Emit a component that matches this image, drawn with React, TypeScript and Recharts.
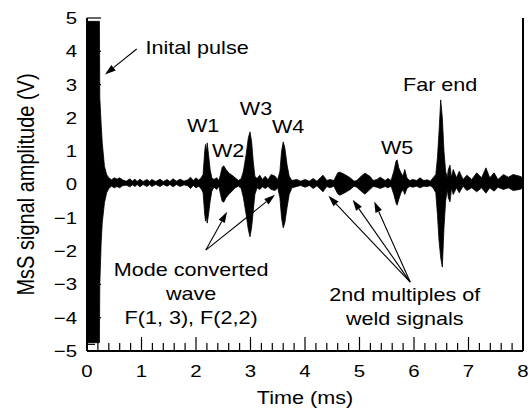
import React from 'react'
import { AreaChart, Area, XAxis, YAxis, ReferenceLine, ReferenceDot } from 'recharts'

// envelope of the MsS trace
const timeMs = [
  0, 0.228, 0.235, 0.26, 0.28, 0.32, 0.36, 0.4, 0.45, 0.5, 0.55, 0.6, 0.65, 0.72, 0.79, 0.83, 0.88, 0.92, 0.97,
  1.03, 1.1, 1.15, 1.19, 1.26, 1.34, 1.4, 1.47, 1.52, 1.58, 1.64, 1.71, 1.78, 1.85, 1.9, 1.95,
  2.0, 2.05, 2.1, 2.13, 2.16, 2.175, 2.19, 2.205, 2.23, 2.26, 2.29, 2.33, 2.38, 2.42, 2.45, 2.48, 2.51,
  2.55, 2.6, 2.66, 2.72, 2.78, 2.83, 2.87, 2.92, 2.96, 2.99, 3.02, 3.05, 3.08, 3.12, 3.17, 3.22, 3.27,
  3.32, 3.38, 3.45, 3.5, 3.54, 3.57, 3.6, 3.63, 3.67, 3.71, 3.76, 3.85, 3.92, 4.0, 4.08, 4.15, 4.22,
  4.33, 4.4, 4.46, 4.53, 4.6, 4.64, 4.73, 4.83, 4.9, 4.95, 5.03, 5.1, 5.19, 5.25, 5.32, 5.38, 5.47,
  5.52, 5.58, 5.63, 5.67, 5.69, 5.72, 5.76, 5.8, 5.83, 5.87, 5.92, 5.98, 6.05, 6.11, 6.18, 6.24, 6.3,
  6.35, 6.4, 6.43, 6.46, 6.49, 6.52, 6.55, 6.58, 6.61, 6.63, 6.66, 6.69, 6.72, 6.78, 6.83, 6.9, 6.97,
  7.06, 7.15, 7.24, 7.32, 7.39, 7.47, 7.54, 7.64, 7.73, 7.82, 7.94, 8.0,
]
const upperV = [
  4.9, 4.9, 2.6, 1.8, 1.25, 0.55, 0.3, 0.2, 0.14, 0.2, 0.16, 0.2, 0.14, 0.1, 0.17, 0.1, 0.16, 0.09, 0.16,
  0.09, 0.15, 0.09, 0.15, 0.09, 0.16, 0.09, 0.15, 0.09, 0.17, 0.1, 0.16, 0.1, 0.14, 0.22, 0.12,
  0.2, 0.13, 0.22, 0.3, 1.0, 1.2, 0.95, 1.25, 0.9, 0.45, 0.2, 0.15, 0.2, 0.12, 0.3, 0.52, 0.56,
  0.45, 0.35, 0.28, 0.2, 0.12, 0.18, 0.4, 0.9, 1.4, 1.58, 1.3, 0.7, 0.25, 0.18, 0.28, 0.15, 0.25,
  0.14, 0.3, 0.25, 0.15, 0.4, 1.0, 1.28, 1.1, 0.6, 0.25, 0.12, 0.15, 0.1, 0.15, 0.1, 0.18, 0.1,
  0.28, 0.12, 0.15, 0.12, 0.35, 0.37, 0.3, 0.2, 0.1, 0.12, 0.25, 0.34, 0.25, 0.12, 0.15, 0.22, 0.12,
  0.18, 0.12, 0.4, 0.7, 0.74, 0.5, 0.35, 0.25, 0.45, 0.2, 0.12, 0.15, 0.12, 0.2, 0.12, 0.14, 0.1,
  0.2, 0.3, 0.8, 1.6, 2.54, 2.0, 1.0, 0.4, 0.2, 0.45, 0.58, 0.2, 0.45, 0.2, 0.4, 0.15, 0.28,
  0.15, 0.35, 0.2, 0.5, 0.2, 0.35, 0.15, 0.3, 0.22, 0.3, 0.25, 0.2,
]
const lowerV = [
  -4.75, -4.75, -3.0, -1.75, -1.15, -0.55, -0.25, -0.12, -0.05, -0.1, -0.06, -0.1, -0.04, -0.02, -0.07, -0.01, -0.06, 0, -0.07,
  0, -0.06, 0, -0.06, 0, -0.06, 0, -0.05, 0, -0.07, 0, -0.06, -0.01, -0.04, -0.12, -0.03,
  -0.1, -0.05, -0.14, -0.25, -0.9, -1.1, -0.95, -1.16, -0.9, -0.5, -0.2, -0.08, -0.15, -0.05, -0.3, -0.5, -0.53,
  -0.4, -0.3, -0.2, -0.1, -0.05, -0.12, -0.4, -0.9, -1.35, -1.57, -1.3, -0.8, -0.3, -0.1, -0.15, -0.07, -0.12,
  -0.06, -0.15, -0.18, -0.1, -0.4, -1.0, -1.3, -1.15, -0.7, -0.3, -0.1, -0.06, -0.03, -0.08, -0.03, -0.12, -0.04,
  -0.22, -0.06, -0.1, -0.05, -0.28, -0.32, -0.25, -0.15, -0.05, -0.08, -0.2, -0.29, -0.15, -0.06, -0.08, -0.12, -0.06,
  -0.1, -0.05, -0.3, -0.55, -0.62, -0.45, -0.25, -0.15, -0.3, -0.12, -0.06, -0.08, -0.05, -0.1, -0.05, -0.06, -0.04,
  -0.1, -0.25, -0.9, -1.7, -2.2, -2.48, -1.3, -0.5, -0.15, -0.4, -0.52, -0.1, -0.3, -0.1, -0.25, -0.05, -0.18,
  -0.1, -0.22, -0.1, -0.26, -0.1, -0.2, -0.08, -0.15, -0.1, -0.18, -0.15, -0.1,
]

const xMajorTicks = [0, 1, 2, 3, 4, 5, 6, 7, 8]
const yMajorTicks = [-5, -4, -3, -2, -1, 0, 1, 2, 3, 4, 5]

// annotation text (anchor in ms / V)
const notes = [
  { t: 2.02, v: 4.11, lines: ['Inital pulse'] },
  { t: 2.13, v: 1.76, lines: ['W1'] },
  { t: 2.59, v: 1.01, lines: ['W2'] },
  { t: 3.1, v: 2.27, lines: ['W3'] },
  { t: 3.69, v: 1.73, lines: ['W4'] },
  { t: 5.69, v: 1.1, lines: ['W5'] },
  { t: 6.48, v: 3.0, lines: ['Far end'] },
  { t: 1.91, v: -2.56, lines: ['Mode converted', 'wave', 'F(1, 3), F(2,2)'] },
  { t: 5.83, v: -3.31, lines: ['2nd multiples of', 'weld signals'] },
]

// arrows: [from, to]
const arrows = [
  [[0.912, 4.07], [0.33, 3.3]],
  [[2.18, -1.97], [2.57, -0.82]],
  [[2.18, -1.97], [3.45, -0.31]],
  [[5.93, -2.93], [4.43, -0.34]],
  [[5.93, -2.93], [4.875, -0.46]],
  [[5.93, -2.93], [5.27, -0.51]],
]

const FONT = '"Liberation Sans", Arial, Helvetica, sans-serif'
const STRETCH = 1.2

const subdivide = (majors: number[]) =>
  majors.flatMap((m, i) => (i < majors.length - 1 ? [0, 0.2, 0.4, 0.6, 0.8].map(f => +(m + f).toFixed(1)) : [m]))

const xTicks = subdivide(xMajorTicks)
const yTicks = subdivide(yMajorTicks)

const fmt = (v: number) => (v < 0 ? `\u2212${-v}` : `${v}`)

const XTick = ({ x, y, payload }: any) => {
  const major = Number.isInteger(payload.value)
  return (
    <g>
      <line x1={x} x2={x} y1={y} y2={y - (major ? 14 : 8)} stroke="#000" strokeWidth={1.2} />
      {major && (
        <text transform={`translate(${x},${y + 20}) scale(${STRETCH},1)`} textAnchor="middle" dy="0.35em"
          fontSize={17} fontFamily={FONT} fill="#000">
          {fmt(payload.value)}
        </text>
      )}
    </g>
  )
}

const YTickLeft = ({ x, y, payload }: any) => {
  const major = Number.isInteger(payload.value)
  return (
    <g>
      <line x1={x} x2={x + (major ? 14 : 8)} y1={y} y2={y} stroke="#000" strokeWidth={1.2} />
      {major && (
        <text transform={`translate(${x - 10},${y}) scale(${STRETCH},1)`} textAnchor="end" dy="0.35em"
          fontSize={17} fontFamily={FONT} fill="#000">
          {fmt(payload.value)}
        </text>
      )}
    </g>
  )
}

const YTickRight = ({ x, y, payload }: any) => {
  const major = Number.isInteger(payload.value)
  return <line x1={x} x2={x - (major ? 14 : 8)} y1={y} y2={y} stroke="#000" strokeWidth={1.2} />
}

const XLabel = ({ viewBox }: any) => (
  <text transform={`translate(${viewBox.x + viewBox.width / 2},${viewBox.y + 47}) scale(${STRETCH},1)`}
    textAnchor="middle" dy="0.35em" fontSize={18} fontFamily={FONT} fill="#000">
    Time (ms)
  </text>
)

const YLabel = ({ viewBox }: any) => (
  <text transform={`translate(${viewBox.x + 26},${viewBox.y + viewBox.height / 2}) scale(${STRETCH},1) rotate(-90)`}
    textAnchor="middle" dy="0.35em" fontSize={20} fontFamily={FONT} fill="#000">
    MsS signal amplitude (V)
  </text>
)

const Note = ({ cx, cy, lines }: any) => (
  <text transform={`translate(${cx},${cy}) scale(${STRETCH},1)`} textAnchor="middle"
    fontSize={18} fontFamily={FONT} fill="#000">
    {lines.map((l: string, i: number) => (
      <tspan key={i} x={0} dy={i === 0 ? '0.35em' : 24}>{l}</tspan>
    ))}
  </text>
)

const Arrow = ({ x1, y1, x2, y2 }: any) => {
  const a = Math.atan2(y2 - y1, x2 - x1)
  const len = 11
  const w = 3.5
  const bx = x2 - len * Math.cos(a)
  const by = y2 - len * Math.sin(a)
  const pts = `${x2},${y2} ${bx + w * Math.sin(a)},${by - w * Math.cos(a)} ${bx - w * Math.sin(a)},${by + w * Math.cos(a)}`
  return (
    <g>
      <line x1={x1} y1={y1} x2={bx} y2={by} stroke="#000" strokeWidth={1.1} />
      <polygon points={pts} fill="#000" />
    </g>
  )
}

const data = timeMs.map((t, i) => ({ t, range: [lowerV[i], upperV[i]] }))

export default function App() {
  return (
    <div style={{ position: 'absolute', left: 0, top: 0, background: '#fff' }}>
      <AreaChart width={529} height={410} data={data} margin={{ top: 18, right: 0, bottom: 0, left: 0 }}>
        <XAxis
          dataKey="t"
          type="number"
          domain={[0, 8]}
          ticks={xTicks}
          interval={0}
          height={59}
          tickSize={0}
          tickMargin={0}
          tickLine={false}
          tick={XTick}
          axisLine={{ stroke: '#000', strokeWidth: 2 }}
          label={XLabel}
        />
        <XAxis xAxisId="top" orientation="top" type="number" domain={[0, 8]} height={0} tick={false}
          tickLine={false} axisLine={{ stroke: '#000', strokeWidth: 2 }} />
        <YAxis
          type="number"
          domain={[-5, 5]}
          ticks={yTicks}
          interval={0}
          width={87}
          tickSize={0}
          tickMargin={0}
          tickLine={false}
          tick={YTickLeft}
          axisLine={{ stroke: '#000', strokeWidth: 2 }}
          label={YLabel}
        />
        <YAxis yAxisId="right" orientation="right" type="number" domain={[-5, 5]} ticks={yTicks} interval={0}
          width={6} tickSize={0} tickMargin={0} tickLine={false} tick={YTickRight}
          axisLine={{ stroke: '#000', strokeWidth: 2 }} />
        <Area
          type="linear"
          dataKey="range"
          stroke="#000"
          strokeWidth={0.8}
          fill="#000"
          fillOpacity={1}
          isAnimationActive={false}
          dot={false}
          activeDot={false}
        />
        {arrows.map(([from, to], i) => (
          <ReferenceLine key={`a${i}`} segment={[{ x: from[0], y: from[1] }, { x: to[0], y: to[1] }]}
            shape={Arrow} ifOverflow="visible" />
        ))}
        {notes.map((n, i) => (
          <ReferenceDot key={`n${i}`} x={n.t} y={n.v} ifOverflow="visible"
            shape={(p: any) => <Note {...p} lines={n.lines} />} />
        ))}
      </AreaChart>
    </div>
  )
}
